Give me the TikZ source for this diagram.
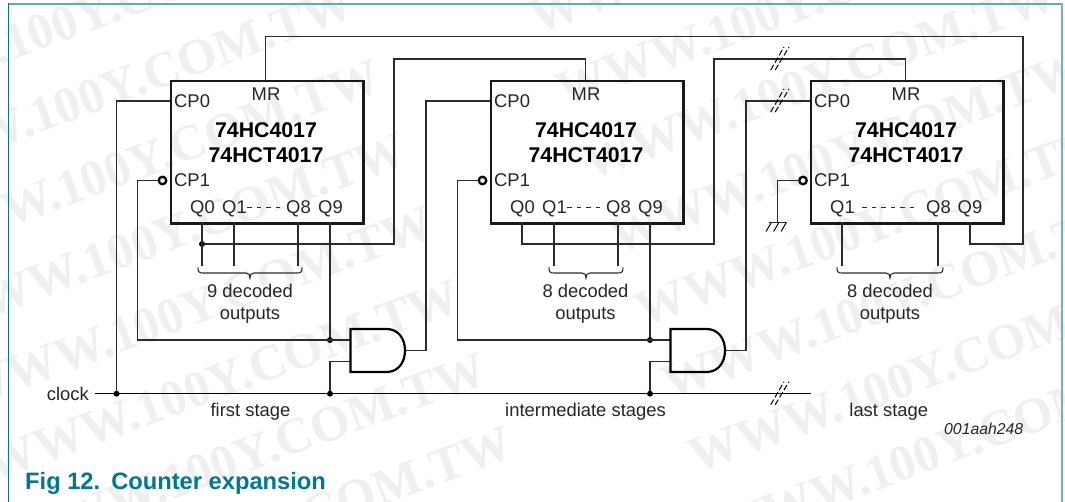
\documentclass[tikz,border=0pt]{standalone}
\usepackage{fontspec}
\setmainfont{Liberation Sans}
\newfontfamily\wmfont{Liberation Serif}
\definecolor{wire}{HTML}{2B2B2B}
\definecolor{teal}{HTML}{00788F}
\definecolor{frameT}{HTML}{5FA9BA}
\definecolor{frameR}{HTML}{6FB3C2}
\definecolor{wm}{HTML}{EFEFEF}
\tikzset{
  x=1pt,y=-1pt,
  wirel/.style={draw=wire,line width=1.5pt,line join=miter},
  chip/.style={draw=black!90,line width=2.5pt,minimum width=192.5pt,minimum height=142.5pt,inner sep=0pt,anchor=north west},
  dot/.style={circle,fill=black,inner sep=0pt,minimum size=6pt},
  bub/.style={circle,draw=black,line width=2.3pt,fill=white,inner sep=0pt,minimum size=7.5pt},
  lab/.style={font=\fontsize{18.4pt}{22pt}\selectfont,text=black!85,inner sep=0pt,anchor=base west},
  labc/.style={font=\fontsize{18.4pt}{22pt}\selectfont,text=black!85,inner sep=0pt,anchor=base},
  tit/.style={font=\fontsize{21.3pt}{25pt}\selectfont\bfseries,inner sep=0pt,anchor=base},
  wmark/.style={font=\fontsize{50.5pt}{52pt}\selectfont\wmfont\bfseries,text=wm,rotate=20.2,inner sep=0pt,anchor=base west},
  slash/.style={draw=black,line width=1pt,dash pattern=on 6pt off 2.5pt},
  braceline/.style={draw=wire,line width=1.1pt},
}
\newcommand{\breakmark}[2]{%
  \draw[slash] (#1-2.3,#2+11) -- (#1+11,#2-12);
  \draw[slash] (#1+2.2,#2+11) -- (#1+16,#2-12);}
\newcommand{\bracemark}[2]{% centre x, half width
  \draw[braceline] (#1-#2,267.5) .. controls (#1-#2,272) and (#1-#2+1,273) .. (#1-#2+5,273)
    -- (#1-4,273) .. controls (#1-1,273) and (#1,275) .. (#1,278)
    .. controls (#1,275) and (#1+1,273) .. (#1+4,273)
    -- (#1+#2-5,273) .. controls (#1+#2-1,273) and (#1+#2,272) .. (#1+#2,267.5);}
\newcommand{\andgate}[1]{% left x
  \draw[draw=black,line width=2.2pt] (#1,329) -- (#1+36,329)
    .. controls (#1+48,329) and (#1+54.5,339) .. (#1+54.5,350.5)
    .. controls (#1+54.5,362) and (#1+48,372) .. (#1+36,372) -- (#1,372) -- cycle;}
\begin{document}
\begin{tikzpicture}
\useasboundingbox (0,0) rectangle (1065,502);
\fill[white] (0,0) rectangle (1065,502);
% watermark: base-left = dot - 3 em along the text direction
\foreach \k in {-2,...,5}
  \node[wmark] at ({136-26.5*\k-142.2},{430-73.3*\k+52.3}) {WWW.100Y.COM.TW};
\foreach \k in {-1,...,6}
  \node[wmark] at ({839-26.5*\k-142.2},{421.7-73.3*\k+52.3}) {WWW.100Y.COM.TW};
% frame
\draw[frameT,line width=1.3pt] (8,4) -- (1061.5,4);
\draw[teal,line width=1.3pt] (8.3,502) -- (8.3,3.4);
\draw[frameR,line width=2pt] (1061.5,3.4) -- (1061.5,502);
% chips
\node[chip] (u1) at (169.5,80) {};
\node[chip] (u2) at (489.5,80) {};
\node[chip] (u3) at (809.5,80) {};
% named points
\coordinate (clkL) at (95,393.7);
\coordinate (clkR) at (810.7,393.7);
\node[dot] (j1) at (116.5,393.7) {};
\node[dot] (j2) at (330,393.7) {};
\node[dot] (j3) at (650,393.7) {};
\node[dot] (j4) at (330,340) {};
\node[dot] (j5) at (650,340) {};
\node[dot] (j6) at (202,244) {};
\node[bub] (b1) at (162.5,180.5) {};
\node[bub] (b2) at (482.5,180.5) {};
\node[bub] (b3) at (803,180.5) {};
% wires
\draw[wirel] (265.7,80) |- (1023,36.7) |- (970,244) -- (970,222.5);
\draw[wirel] (202,222.5) -- (202,266);
\draw[wirel] (j6) -- (394,244) |- (585.5,59) -- (585.5,80);
\draw[wirel] (522,222.5) |- (714,244) |- (905.5,59) -- (905.5,80);
\draw[wirel] (405,350.7) -| (426,101) -- (489.5,101);
\draw[wirel] (725,350.7) -| (746,101) -- (809.5,101);
\draw[wirel] (169.5,101) -| (j1);
\draw[wirel] (b1) -| (137.7,340) -- (350.5,340);
\draw[wirel] (b2) -| (457.7,340) -- (670.5,340);
\draw[wirel] (b3) -| (777.7,222.7);
\draw[wirel] (330,222.5) -- (j4);
\draw[wirel] (650,222.5) -- (j5);
\draw[wirel] (350.5,361.3) -| (j2);
\draw[wirel] (670.5,361.3) -| (j3);
\draw[wirel] (234,222.5) -- (234,266);
\draw[wirel] (298,222.5) -- (298,266);
\draw[wirel] (554,222.5) -- (554,266);
\draw[wirel] (618,222.5) -- (618,266);
\draw[wirel] (842,222.5) -- (842,266);
\draw[wirel] (938,222.5) -- (938,266);
\draw[draw=black,line width=1.4pt] (clkL) -- (clkR);
% ground
\draw[wirel] (769.4,222.7) -- (787.4,222.7);
\foreach \gx in {771,778.6,786} \draw[draw=black,line width=1pt] (\gx,223) -- (\gx-5,231.5);
% breaks
\breakmark{773}{59}
\breakmark{773}{101}
\breakmark{773}{393.7}
% gates
\andgate{350.5}
\andgate{670.5}
% braces
\bracemark{250}{52}
\bracemark{586}{37}
\bracemark{890}{53}
% chip texts
\foreach \ox/\n in {0/1,320/2,640/3}{
  \node[lab] (cpa\n) at (174+\ox,108) {CP0};
  \node[lab] (cpb\n) at (174+\ox,186.7) {CP1};
  \node[labc] (mr\n) at (266+\ox,100.7) {MR};
  \node[tit] (ta\n) at (266+\ox,137.7) {74HC4017};
  \node[tit] (tb\n) at (266+\ox,163) {74HCT4017};
}
\foreach \ox/\n in {0/1,320/2}{
  \node[lab] (qa\n) at (190+\ox,214) {Q0};
  \node[lab] (qb\n) at (222+\ox,214) {Q1};
  \node[lab] (qc\n) at (286+\ox,214) {Q8};
  \node[lab] (qd\n) at (318+\ox,214) {Q9};
  \draw[wire,line width=1pt,dash pattern=on 4.5pt off 5pt] (247+\ox,208) -- (282+\ox,208);
}
\node[lab] (qb3) at (830,214) {Q1};
\node[lab] (qc3) at (926,214) {Q8};
\node[lab] (qd3) at (957.5,214) {Q9};
\draw[wire,line width=1pt,dash pattern=on 4.5pt off 5pt] (862,208) -- (917,208);
% decoded labels
\node[labc] (d1) at (250,298) {9 decoded};
\node[labc] (o1) at (250,320) {outputs};
\node[labc] (d2) at (585.5,298) {8 decoded};
\node[labc] (o2) at (585.5,320) {outputs};
\node[labc] (d3) at (890,298) {8 decoded};
\node[labc] (o3) at (890,320) {outputs};
% bottom labels
\node[lab] (clk) at (46.7,400) {clock};
\node[labc] (s1) at (250.5,416.7) {first stage};
\node[labc] (s2) at (585.5,416.7) {intermediate stages};
\node[labc] (s3) at (888.8,416.7) {last stage};
\node[font=\fontsize{15.8pt}{18pt}\selectfont\itshape,inner sep=0pt,anchor=base west,text=black!85] (ref) at (944,434) {001aah248};
\node[font=\fontsize{23.7pt}{26pt}\selectfont\bfseries,text=teal,inner sep=0pt,anchor=base west] (cap) at (25,489) {Fig 12.\hspace{11pt}Counter expansion};
\end{tikzpicture}
\end{document}
